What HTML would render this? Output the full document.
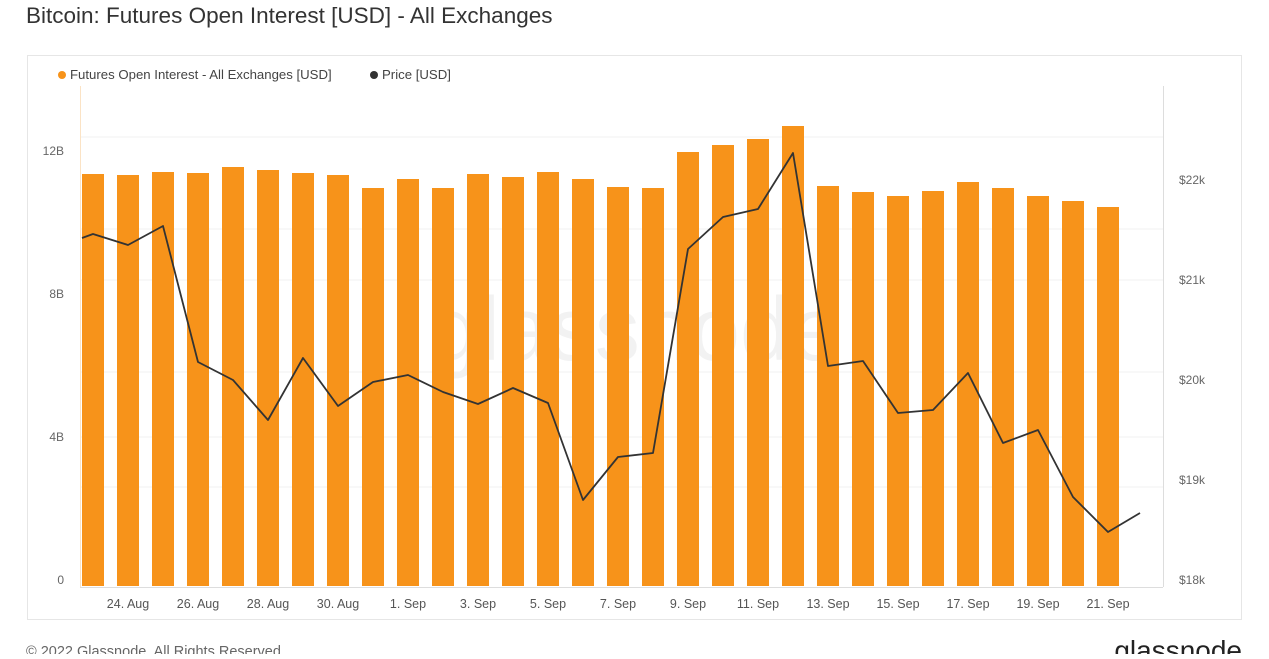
<!DOCTYPE html>
<html><head><style>
body{margin:0;background:#fff;width:1269px;height:654px;overflow:hidden;font-family:"Liberation Sans",sans-serif}
</style></head><body>
<svg width="1269" height="654" xmlns="http://www.w3.org/2000/svg" font-family="Liberation Sans, sans-serif">
<text x="26" y="23" font-size="22.5" fill="#333">Bitcoin: Futures Open Interest [USD] - All Exchanges</text>
<rect x="27.5" y="55.5" width="1214" height="564" fill="#fff" stroke="#e6e6e6"/>
<circle cx="62" cy="75" r="4" fill="#f7931a"/>
<text x="70" y="79" font-size="13.2" fill="#444">Futures Open Interest - All Exchanges [USD]</text>
<circle cx="374" cy="75" r="4" fill="#333"/>
<text x="382" y="79" font-size="13.2" fill="#444">Price [USD]</text>
<g stroke="#f0f0f0" stroke-width="1">
<line x1="80" x2="1163" y1="137" y2="137"/><line x1="80" x2="1163" y1="229" y2="229"/>
<line x1="80" x2="1163" y1="280" y2="280"/><line x1="80" x2="1163" y1="372" y2="372"/>
<line x1="80" x2="1163" y1="437" y2="437"/><line x1="80" x2="1163" y1="487" y2="487"/>
</g>
<text x="635" y="360" font-size="90" fill="#f2f2f2" text-anchor="middle">glassnode</text>
<line x1="80.5" y1="86" x2="80.5" y2="587" stroke="#fbe3c5"/>
<line x1="1163.5" y1="86" x2="1163.5" y2="587" stroke="#ddd"/>
<line x1="80" y1="587.5" x2="1163" y2="587.5" stroke="#ddd"/>
<g font-size="12" fill="#666">
<text x="64" y="155" text-anchor="end">12B</text><text x="64" y="298" text-anchor="end">8B</text>
<text x="64" y="441" text-anchor="end">4B</text><text x="64" y="584" text-anchor="end">0</text>
<text x="1179" y="184">$22k</text><text x="1179" y="284">$21k</text><text x="1179" y="384">$20k</text>
<text x="1179" y="484">$19k</text><text x="1179" y="584">$18k</text>
</g>
<g fill="#f7931a" id="bars"></g>
<g font-size="12.5" fill="#555" text-anchor="middle" id="xl"></g>
<polyline id="pl" fill="none" stroke="#333" stroke-width="1.8" stroke-linejoin="round"/>
<text x="26" y="656" font-size="14.5" fill="#666">© 2022 Glassnode. All Rights Reserved.</text>
<text x="1242" y="660" font-size="28" fill="#222" text-anchor="end">glassnode</text>
</svg>
<script>
var tops=[174,175,172,173,167,170,173,175,188,179,188,174,177,172,179,187,188,152,145,139,126,186,192,196,191,182,188,196,201,207];
var b=document.getElementById('bars'),s='';
tops.forEach(function(t,i){var c=93+35*i;s+='<rect x="'+(c-11)+'" y="'+t+'" width="22" height="'+(586-t)+'"/>';});
b.innerHTML=s;
var labs=['24. Aug','26. Aug','28. Aug','30. Aug','1. Sep','3. Sep','5. Sep','7. Sep','9. Sep','11. Sep','13. Sep','15. Sep','17. Sep','19. Sep','21. Sep'];
s='';labs.forEach(function(l,i){s+='<text x="'+(128+70*i)+'" y="608">'+l+'</text>';});
document.getElementById('xl').innerHTML=s;
var py=[234,245,226,362,380,420,358,406,382,375,392,404,388,403,500,457,453,249,217,209,153,366,361,413,410,373,443,430,497,532];
var pts='82,238 ';py.forEach(function(y,i){pts+=(93+35*i)+','+y+' ';});pts+='1140,513';
document.getElementById('pl').setAttribute('points',pts);
</script>
</body></html>
